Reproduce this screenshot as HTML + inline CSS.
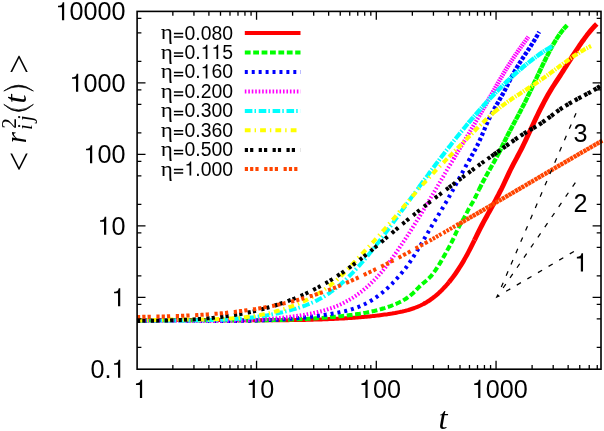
<!DOCTYPE html>
<html><head><meta charset="utf-8"><title>plot</title>
<style>html,body{margin:0;padding:0;background:#fff;}body{width:604px;height:431px;overflow:hidden;}svg{display:block;will-change:transform;}text{font-family:"Liberation Sans",sans-serif;fill:#000;}.ser{font-family:"Liberation Serif",serif;font-style:italic;}</style>
</head><body>
<svg width="604" height="431" viewBox="0 0 604 431">
<rect x="0" y="0" width="604" height="431" fill="#ffffff"/>
<g fill="none" stroke-linejoin="round" stroke-linecap="butt">
<path d="M137.0,320.3 L138.5,320.2 L140.0,320.2 L141.5,320.2 L143.0,320.1 L144.5,320.1 L146.0,320.1 L147.5,320.1 L149.0,320.1 L150.5,320.0 L152.0,320.0 L153.5,320.0 L155.0,320.0 L156.5,320.0 L158.0,320.0 L159.5,320.0 L161.0,319.9 L162.5,319.9 L164.0,319.9 L165.5,319.9 L167.0,319.9 L168.5,319.9 L170.0,319.9 L171.5,319.9 L173.0,319.9 L174.5,319.9 L176.0,319.9 L177.5,319.9 L179.0,319.9 L180.5,319.9 L182.0,319.9 L183.5,319.9 L185.0,319.9 L186.5,319.9 L188.0,319.9 L189.5,319.9 L191.0,319.9 L192.5,319.9 L194.0,319.9 L195.5,319.9 L197.0,320.0 L198.5,320.0 L200.0,320.0 L201.5,320.0 L203.0,320.0 L204.5,320.0 L206.0,320.0 L207.5,320.0 L209.0,320.0 L210.5,320.0 L212.0,320.0 L213.5,320.1 L215.0,320.1 L216.5,320.1 L218.0,320.1 L219.5,320.1 L221.0,320.1 L222.5,320.1 L224.0,320.1 L225.5,320.1 L227.0,320.2 L228.5,320.2 L230.0,320.2 L231.5,320.2 L233.0,320.2 L234.5,320.2 L236.0,320.2 L237.5,320.2 L239.0,320.2 L240.5,320.2 L242.0,320.3 L243.5,320.3 L245.0,320.3 L246.5,320.3 L248.0,320.3 L249.5,320.3 L251.0,320.3 L252.5,320.3 L254.0,320.3 L255.5,320.3 L257.0,320.3 L258.5,320.3 L260.0,320.3 L261.5,320.3 L263.0,320.3 L264.5,320.3 L266.0,320.3 L267.5,320.3 L269.0,320.3 L270.5,320.3 L272.0,320.3 L273.5,320.3 L275.0,320.3 L276.5,320.3 L278.0,320.3 L279.5,320.3 L281.0,320.2 L282.5,320.2 L284.0,320.2 L285.5,320.2 L287.0,320.2 L288.5,320.2 L290.0,320.1 L291.5,320.1 L293.0,320.1 L294.5,320.1 L296.0,320.1 L297.5,320.0 L299.0,320.0 L300.5,320.0 L302.0,319.9 L303.5,319.9 L305.0,319.9 L306.5,319.8 L308.0,319.8 L309.5,319.8 L311.0,319.7 L312.5,319.7 L314.0,319.6 L315.5,319.6 L317.0,319.5 L318.5,319.5 L320.0,319.4 L321.5,319.4 L323.0,319.3 L324.5,319.3 L326.0,319.2 L327.5,319.2 L329.0,319.1 L330.5,319.0 L332.0,319.0 L333.5,318.9 L335.0,318.8 L336.5,318.8 L338.0,318.7 L339.5,318.6 L341.0,318.5 L342.5,318.4 L344.0,318.4 L345.5,318.3 L347.0,318.2 L348.5,318.1 L350.0,318.0 L351.5,317.9 L353.0,317.8 L354.5,317.7 L356.0,317.6 L357.5,317.5 L359.0,317.3 L360.5,317.2 L362.0,317.1 L363.5,317.0 L365.0,316.8 L366.5,316.7 L368.0,316.5 L369.5,316.4 L371.0,316.2 L372.5,316.1 L374.0,315.9 L375.5,315.7 L377.0,315.6 L378.5,315.4 L380.0,315.2 L381.5,315.0 L383.0,314.8 L384.5,314.6 L386.0,314.4 L387.5,314.2 L389.0,313.9 L390.5,313.7 L392.0,313.5 L393.5,313.2 L395.0,313.0 L396.5,312.7 L398.0,312.4 L399.5,312.1 L401.0,311.8 L402.5,311.5 L404.0,311.1 L405.5,310.8 L407.0,310.4 L408.5,310.0 L410.0,309.5 L411.5,309.0 L413.0,308.5 L414.5,308.0 L416.0,307.4 L417.5,306.8 L419.0,306.2 L420.5,305.5 L422.0,304.7 L423.5,304.0 L425.0,303.1" stroke="#ff0000" stroke-width="4.0"/>
<path d="M423.5,304.0 L425.0,303.1 L426.5,302.3 L428.0,301.3 L429.5,300.4 L431.0,299.3 L432.5,298.2 L434.0,297.1 L435.5,295.9 L437.0,294.6 L438.5,293.3 L440.0,291.9 L441.5,290.5 L443.0,288.9 L444.5,287.3 L446.0,285.7 L447.5,284.0 L449.0,282.2" stroke="#ff0000" stroke-width="4.3"/>
<path d="M449.0,282.2 L450.5,280.3 L452.0,278.4 L453.5,276.4 L455.0,274.3 L456.5,272.1 L458.0,269.9 L459.5,267.6 L461.0,265.2 L462.5,262.7 L464.0,260.2 L465.5,257.5 L467.0,254.8 L468.5,252.0 L470.0,249.1 L471.5,246.1 L473.0,243.1 L474.5,240.1" stroke="#ff0000" stroke-width="4.6"/>
<path d="M474.5,240.1 L476.0,237.0 L477.5,233.9 L479.0,230.9 L480.5,227.9 L482.0,225.0 L483.5,222.2 L485.0,219.4 L486.5,216.7 L488.0,213.9 L489.5,211.2 L491.0,208.5 L492.5,205.8 L494.0,203.1 L495.5,200.3 L497.0,197.5 L498.5,194.7 L500.0,191.7 L501.5,188.8 L503.0,185.7 L504.5,182.5 L506.0,179.3 L507.5,176.1 L509.0,172.9 L510.5,169.8 L512.0,166.8 L513.5,163.9 L515.0,161.1 L516.5,158.3 L518.0,155.5 L519.5,152.7 L521.0,149.8 L522.5,146.8 L524.0,143.7 L525.5,140.6 L527.0,137.4 L528.5,134.2 L530.0,130.9 L531.5,127.7 L533.0,124.5 L534.5,121.3 L536.0,118.1 L537.5,115.0 L539.0,111.9 L540.5,108.9 L542.0,106.0 L543.5,103.1 L545.0,100.2 L546.5,97.5 L548.0,94.8 L549.5,92.2 L551.0,89.7 L552.5,87.3 L554.0,85.0 L555.5,82.7 L557.0,80.4 L558.5,78.1 L560.0,75.8 L561.5,73.5 L563.0,71.1 L564.5,68.7 L566.0,66.4 L567.5,64.0 L569.0,61.6 L570.5,59.3 L572.0,56.9 L573.5,54.6 L575.0,52.3 L576.5,50.0 L578.0,47.8 L579.5,45.5 L581.0,43.4 L582.5,41.2 L584.0,39.2 L585.5,37.1 L587.0,35.1 L588.5,33.2 L590.0,31.4 L591.5,29.6 L593.0,27.9 L594.5,26.3 L596.0,24.8 L596.8,24.0" stroke="#ff0000" stroke-width="4.9"/>
<path d="M137.0,320.6 L138.5,320.6 L140.0,320.6 L141.5,320.6 L143.0,320.5 L144.5,320.5 L146.0,320.5 L147.5,320.5 L149.0,320.5 L150.5,320.4 L152.0,320.4 L153.5,320.4 L155.0,320.4 L156.5,320.4 L158.0,320.4 L159.5,320.4 L161.0,320.4 L162.5,320.4 L164.0,320.4 L165.5,320.4 L167.0,320.3 L168.5,320.3 L170.0,320.3 L171.5,320.3 L173.0,320.3 L174.5,320.3 L176.0,320.3 L177.5,320.3 L179.0,320.3 L180.5,320.3 L182.0,320.4 L183.5,320.4 L185.0,320.4 L186.5,320.4 L188.0,320.4 L189.5,320.4 L191.0,320.4 L192.5,320.4 L194.0,320.4 L195.5,320.4 L197.0,320.4 L198.5,320.4 L200.0,320.4 L201.5,320.4 L203.0,320.4 L204.5,320.4 L206.0,320.5 L207.5,320.5 L209.0,320.5 L210.5,320.5 L212.0,320.5 L213.5,320.5 L215.0,320.5 L216.5,320.5 L218.0,320.5 L219.5,320.5 L221.0,320.5 L222.5,320.5 L224.0,320.5 L225.5,320.5 L227.0,320.5 L228.5,320.5 L230.0,320.5 L231.5,320.5 L233.0,320.5 L234.5,320.5 L236.0,320.5 L237.5,320.5 L239.0,320.5 L240.5,320.5 L242.0,320.5 L243.5,320.5 L245.0,320.5 L246.5,320.5 L248.0,320.5 L249.5,320.5 L251.0,320.5 L252.5,320.5 L254.0,320.4 L255.5,320.4 L257.0,320.4 L258.5,320.4 L260.0,320.4 L261.5,320.3 L263.0,320.3 L264.5,320.3 L266.0,320.3 L267.5,320.3 L269.0,320.2 L270.5,320.2 L272.0,320.2 L273.5,320.1 L275.0,320.1 L276.5,320.1 L278.0,320.0 L279.5,320.0 L281.0,319.9 L282.5,319.9 L284.0,319.8 L285.5,319.8 L287.0,319.7 L288.5,319.7 L290.0,319.6 L291.5,319.6 L293.0,319.5 L294.5,319.4 L296.0,319.4 L297.5,319.3 L299.0,319.2 L300.5,319.2 L302.0,319.1 L303.5,319.0 L305.0,318.9 L306.5,318.9 L308.0,318.8 L309.5,318.7 L311.0,318.6 L312.5,318.5 L314.0,318.4 L315.5,318.3 L317.0,318.2 L318.5,318.1 L320.0,318.0 L321.5,317.9 L323.0,317.8 L324.5,317.6 L326.0,317.5 L327.5,317.4 L329.0,317.3 L330.5,317.1 L332.0,317.0 L333.5,316.9 L335.0,316.7 L336.5,316.6 L338.0,316.5 L339.5,316.3 L341.0,316.2 L342.5,316.0 L344.0,315.8 L345.5,315.7 L347.0,315.5 L348.5,315.3 L350.0,315.1 L351.5,314.9 L353.0,314.7 L354.5,314.5 L356.0,314.3 L357.5,314.1 L359.0,313.9 L360.5,313.6 L362.0,313.4 L363.5,313.1 L365.0,312.9 L366.5,312.6 L368.0,312.3 L369.5,312.0 L371.0,311.6 L372.5,311.3 L374.0,311.0 L375.5,310.6 L377.0,310.2 L378.5,309.8 L380.0,309.4 L381.5,309.0 L383.0,308.5 L384.5,308.1 L386.0,307.6 L387.5,307.1 L389.0,306.6 L390.5,306.1 L392.0,305.5 L393.5,304.9 L395.0,304.3 L396.5,303.7 L398.0,303.0 L399.5,302.3 L401.0,301.6 L402.5,300.8 L404.0,299.9 L405.5,299.0 L407.0,298.0 L408.5,296.9 L410.0,295.8 L411.5,294.5 L413.0,293.2 L414.5,291.8 L416.0,290.2 L417.5,288.6 L419.0,287.1 L420.5,285.6 L422.0,284.2 L423.5,283.0 L425.0,281.7 L426.5,280.5 L428.0,279.1 L429.5,277.7 L431.0,276.1 L432.5,274.3 L434.0,272.3 L435.5,270.2 L437.0,267.9 L438.5,265.6 L440.0,263.1 L441.5,260.6 L443.0,257.9 L444.5,255.3 L446.0,252.6 L447.5,249.9 L449.0,247.2 L450.5,244.4 L452.0,241.5 L453.5,238.5 L455.0,235.2 L456.5,231.8 L458.0,228.7 L459.5,225.8 L461.0,223.1 L462.5,220.6 L464.0,218.0 L465.5,215.2 L467.0,212.3 L468.5,209.3 L470.0,206.7 L471.5,204.3 L473.0,201.8 L474.5,199.0 L476.0,196.0 L477.5,192.8 L479.0,189.7" stroke="#00ff00" stroke-width="4.0" stroke-dasharray="5.8 2.6"/>
<path d="M479.0,189.7 L480.5,186.6 L482.0,183.6 L483.5,180.7 L485.0,177.9 L486.5,175.2 L488.0,172.5 L489.5,169.9 L491.0,167.3 L492.5,164.6 L494.0,162.0 L495.5,159.2 L497.0,156.5 L498.5,153.6 L500.0,150.7" stroke="#00ff00" stroke-width="4.2" stroke-dasharray="5.8 1.6"/>
<path d="M498.5,153.6 L500.0,150.7 L501.5,147.6 L503.0,144.5 L504.5,141.5 L506.0,138.5 L507.5,135.5 L509.0,132.6 L510.5,129.8 L512.0,126.9 L513.5,124.1 L515.0,121.3 L516.5,118.5 L518.0,115.7 L519.5,112.9 L521.0,110.0 L522.5,107.1 L524.0,104.2 L525.5,101.2 L527.0,98.1 L528.5,95.0 L530.0,91.9 L531.5,88.7 L533.0,85.5 L534.5,82.3 L536.0,79.1 L537.5,75.9 L539.0,72.7 L540.5,69.5 L542.0,66.4 L543.5,63.3 L545.0,60.2 L546.5,57.2 L548.0,54.2 L549.5,51.3 L551.0,48.5 L552.5,45.8 L554.0,43.2 L555.5,40.6 L557.0,38.2 L558.5,35.9 L560.0,33.7 L561.5,31.7 L563.0,29.7 L564.5,28.0 L566.0,26.4 L567.2,25.2" stroke="#00ff00" stroke-width="4.4" stroke-dasharray="5.8 0.6"/>
<path d="M137.0,320.9 L138.5,320.9 L140.0,320.9 L141.5,320.8 L143.0,320.8 L144.5,320.8 L146.0,320.7 L147.5,320.7 L149.0,320.7 L150.5,320.7 L152.0,320.7 L153.5,320.6 L155.0,320.6 L156.5,320.6 L158.0,320.6 L159.5,320.6 L161.0,320.6 L162.5,320.6 L164.0,320.6 L165.5,320.6 L167.0,320.6 L168.5,320.6 L170.0,320.6 L171.5,320.6 L173.0,320.6 L174.5,320.6 L176.0,320.6 L177.5,320.6 L179.0,320.6 L180.5,320.6 L182.0,320.6 L183.5,320.7 L185.0,320.7 L186.5,320.7 L188.0,320.7 L189.5,320.7 L191.0,320.7 L192.5,320.7 L194.0,320.7 L195.5,320.8 L197.0,320.8 L198.5,320.8 L200.0,320.8 L201.5,320.8 L203.0,320.8 L204.5,320.8 L206.0,320.8 L207.5,320.9 L209.0,320.9 L210.5,320.9 L212.0,320.9 L213.5,320.9 L215.0,320.9 L216.5,320.9 L218.0,320.9 L219.5,320.9 L221.0,320.9 L222.5,320.9 L224.0,320.9 L225.5,320.9 L227.0,320.9 L228.5,320.9 L230.0,320.9 L231.5,320.9 L233.0,320.9 L234.5,320.9 L236.0,320.9 L237.5,320.9 L239.0,320.9 L240.5,320.8 L242.0,320.8 L243.5,320.8 L245.0,320.8 L246.5,320.8 L248.0,320.7 L249.5,320.7 L251.0,320.7 L252.5,320.6 L254.0,320.6 L255.5,320.6 L257.0,320.5 L258.5,320.5 L260.0,320.4 L261.5,320.4 L263.0,320.3 L264.5,320.3 L266.0,320.2 L267.5,320.2 L269.0,320.1 L270.5,320.0 L272.0,320.0 L273.5,319.9 L275.0,319.8 L276.5,319.7 L278.0,319.7 L279.5,319.6 L281.0,319.5 L282.5,319.4 L284.0,319.3 L285.5,319.2 L287.0,319.1 L288.5,319.0 L290.0,318.8 L291.5,318.7 L293.0,318.6 L294.5,318.5 L296.0,318.3 L297.5,318.2 L299.0,318.1 L300.5,317.9 L302.0,317.8 L303.5,317.6 L305.0,317.5 L306.5,317.3 L308.0,317.1 L309.5,316.9 L311.0,316.8 L312.5,316.6 L314.0,316.4 L315.5,316.2 L317.0,316.0 L318.5,315.8 L320.0,315.6 L321.5,315.4 L323.0,315.2 L324.5,314.9 L326.0,314.7 L327.5,314.5 L329.0,314.2 L330.5,314.0 L332.0,313.7 L333.5,313.4 L335.0,313.2 L336.5,312.9 L338.0,312.6 L339.5,312.3 L341.0,312.0 L342.5,311.7 L344.0,311.3 L345.5,311.0 L347.0,310.6 L348.5,310.2 L350.0,309.8 L351.5,309.3 L353.0,308.8 L354.5,308.3 L356.0,307.8 L357.5,307.3 L359.0,306.7 L360.5,306.0 L362.0,305.4 L363.5,304.7 L365.0,304.0 L366.5,303.2 L368.0,302.4 L369.5,301.6 L371.0,300.7 L372.5,299.8 L374.0,298.8 L375.5,297.8 L377.0,296.7 L378.5,295.6 L380.0,294.5 L381.5,293.3 L383.0,292.1 L384.5,290.8 L386.0,289.5 L387.5,288.1 L389.0,286.7 L390.5,285.3 L392.0,283.8 L393.5,282.2 L395.0,280.7 L396.5,279.0 L398.0,277.3 L399.5,275.6 L401.0,273.8 L402.5,272.0 L404.0,270.1 L405.5,268.2 L407.0,266.2 L408.5,264.1 L410.0,262.0 L411.5,259.7 L413.0,257.4 L414.5,255.0 L416.0,252.6 L417.5,250.2 L419.0,247.8 L420.5,245.3 L422.0,242.7 L423.5,240.2 L425.0,237.6 L426.5,235.0 L428.0,232.4 L429.5,229.8 L431.0,227.2 L432.5,224.7 L434.0,222.2 L435.5,219.7 L437.0,217.3 L438.5,214.8 L440.0,212.3 L441.5,209.9 L443.0,207.4 L444.5,204.8 L446.0,202.3 L447.5,199.7 L449.0,197.0 L450.5,194.3 L452.0,191.6 L453.5,188.9 L455.0,186.1 L456.5,183.3 L458.0,180.6 L459.5,177.8 L461.0,175.0 L462.5,172.2 L464.0,169.5 L465.5,166.7 L467.0,164.0 L468.5,161.3 L470.0,158.7" stroke="#0000ff" stroke-width="4.0" stroke-dasharray="3.0 3.93"/>
<path d="M468.5,161.3 L470.0,158.7 L471.5,156.1 L473.0,153.4 L474.5,150.7 L476.0,147.9 L477.5,145.0 L479.0,141.9 L480.5,138.6 L482.0,135.2 L483.5,131.6 L485.0,128.0 L486.5,124.5 L488.0,121.2 L489.5,118.0 L491.0,115.0 L492.5,112.2 L494.0,109.4" stroke="#0000ff" stroke-width="4.2" stroke-dasharray="3.2 2.6"/>
<path d="M494.0,109.4 L495.5,106.7 L497.0,104.1 L498.5,101.5 L500.0,98.9 L501.5,96.3 L503.0,93.6 L504.5,90.9 L506.0,88.0 L507.5,85.0 L509.0,82.0 L510.5,79.1 L512.0,76.2 L513.5,73.4 L515.0,70.7 L516.5,68.1 L518.0,65.6 L519.5,63.2 L521.0,60.8 L522.5,58.5 L524.0,56.2 L525.5,54.0 L527.0,51.7 L528.5,49.5 L530.0,47.2 L531.5,44.9 L533.0,42.5 L534.5,40.1 L536.0,37.6 L537.5,35.0 L539.0,32.2 L539.2,31.9" stroke="#0000ff" stroke-width="4.3" stroke-dasharray="3.6 1.6"/>
<path d="M137.0,320.9 L138.5,320.9 L140.0,320.8 L141.5,320.8 L143.0,320.8 L144.5,320.8 L146.0,320.8 L147.5,320.8 L149.0,320.8 L150.5,320.7 L152.0,320.7 L153.5,320.7 L155.0,320.7 L156.5,320.7 L158.0,320.7 L159.5,320.7 L161.0,320.7 L162.5,320.7 L164.0,320.7 L165.5,320.7 L167.0,320.7 L168.5,320.7 L170.0,320.7 L171.5,320.8 L173.0,320.8 L174.5,320.8 L176.0,320.8 L177.5,320.8 L179.0,320.8 L180.5,320.8 L182.0,320.8 L183.5,320.8 L185.0,320.8 L186.5,320.8 L188.0,320.8 L189.5,320.9 L191.0,320.9 L192.5,320.9 L194.0,320.9 L195.5,320.9 L197.0,320.9 L198.5,320.9 L200.0,320.9 L201.5,320.9 L203.0,320.9 L204.5,320.9 L206.0,320.9 L207.5,320.9 L209.0,320.9 L210.5,320.9 L212.0,320.9 L213.5,320.9 L215.0,320.9 L216.5,320.9 L218.0,320.9 L219.5,320.9 L221.0,320.8 L222.5,320.8 L224.0,320.8 L225.5,320.8 L227.0,320.8 L228.5,320.7 L230.0,320.7 L231.5,320.7 L233.0,320.6 L234.5,320.6 L236.0,320.6 L237.5,320.5 L239.0,320.5 L240.5,320.4 L242.0,320.4 L243.5,320.3 L245.0,320.3 L246.5,320.2 L248.0,320.2 L249.5,320.1 L251.0,320.0 L252.5,320.0 L254.0,319.9 L255.5,319.8 L257.0,319.7 L258.5,319.6 L260.0,319.6 L261.5,319.5 L263.0,319.4 L264.5,319.3 L266.0,319.1 L267.5,319.0 L269.0,318.9 L270.5,318.8 L272.0,318.7 L273.5,318.5 L275.0,318.4 L276.5,318.3 L278.0,318.1 L279.5,318.0 L281.0,317.8 L282.5,317.7 L284.0,317.5 L285.5,317.3 L287.0,317.2 L288.5,317.0 L290.0,316.8 L291.5,316.6 L293.0,316.4 L294.5,316.2 L296.0,316.0 L297.5,315.8 L299.0,315.6 L300.5,315.4 L302.0,315.1 L303.5,314.9 L305.0,314.6 L306.5,314.4 L308.0,314.1 L309.5,313.8 L311.0,313.6 L312.5,313.3 L314.0,312.9 L315.5,312.6 L317.0,312.3 L318.5,311.9 L320.0,311.6 L321.5,311.2 L323.0,310.8 L324.5,310.3 L326.0,309.9 L327.5,309.4 L329.0,308.9 L330.5,308.4 L332.0,307.9 L333.5,307.3 L335.0,306.8 L336.5,306.2 L338.0,305.5 L339.5,304.9 L341.0,304.2 L342.5,303.5 L344.0,302.7 L345.5,301.9 L347.0,301.1 L348.5,300.3 L350.0,299.4 L351.5,298.5 L353.0,297.6 L354.5,296.6 L356.0,295.6 L357.5,294.5 L359.0,293.4 L360.5,292.3 L362.0,291.2 L363.5,289.9 L365.0,288.7 L366.5,287.4 L368.0,286.1 L369.5,284.7 L371.0,283.3 L372.5,281.8 L374.0,280.3 L375.5,278.8 L377.0,277.2 L378.5,275.5 L380.0,273.8 L381.5,272.1 L383.0,270.3 L384.5,268.4 L386.0,266.6 L387.5,264.6 L389.0,262.6 L390.5,260.6 L392.0,258.5 L393.5,256.4 L395.0,254.3 L396.5,252.1 L398.0,250.0 L399.5,247.7 L401.0,245.5 L402.5,243.3 L404.0,241.0 L405.5,238.7 L407.0,236.4 L408.5,234.1 L410.0,231.7 L411.5,229.4 L413.0,227.0 L414.5,224.6 L416.0,222.2 L417.5,219.8 L419.0,217.4 L420.5,214.9 L422.0,212.5 L423.5,210.0 L425.0,207.5 L426.5,205.0 L428.0,202.5 L429.5,199.9 L431.0,197.4 L432.5,194.9 L434.0,192.3 L435.5,189.7 L437.0,187.2 L438.5,184.6 L440.0,182.0 L441.5,179.4 L443.0,176.9 L444.5,174.3 L446.0,171.7 L447.5,169.2 L449.0,166.6 L450.5,164.1 L452.0,161.6 L453.5,159.0 L455.0,156.5" stroke="#ff00ff" stroke-width="4.0" stroke-dasharray="1.6 1.87"/>
<path d="M453.5,159.0 L455.0,156.5 L456.5,154.0 L458.0,151.5 L459.5,149.0 L461.0,146.5 L462.5,144.0 L464.0,141.5 L465.5,139.0 L467.0,136.5 L468.5,134.0 L470.0,131.5 L471.5,128.9 L473.0,126.4 L474.5,123.9 L476.0,121.3 L477.5,118.8 L479.0,116.2" stroke="#ff00ff" stroke-width="4.2" stroke-dasharray="1.6 1.3"/>
<path d="M479.0,116.2 L480.5,113.7 L482.0,111.1 L483.5,108.5 L485.0,105.9 L486.5,103.2 L488.0,100.6 L489.5,97.9 L491.0,95.3 L492.5,92.6 L494.0,90.0 L495.5,87.3 L497.0,84.7 L498.5,82.0 L500.0,79.5 L501.5,76.9 L503.0,74.4 L504.5,71.9 L506.0,69.4 L507.5,67.0 L509.0,64.7 L510.5,62.3 L512.0,60.1 L513.5,57.8 L515.0,55.6 L516.5,53.4 L518.0,51.2 L519.5,49.1 L521.0,47.0 L522.5,44.9 L524.0,42.8 L525.5,40.8 L527.0,38.7 L528.4,36.8" stroke="#ff00ff" stroke-width="4.4" stroke-dasharray="1.6 0.9"/>
<path d="M137.0,320.9 L138.5,320.8 L140.0,320.8 L141.5,320.8 L143.0,320.7 L144.5,320.7 L146.0,320.6 L147.5,320.6 L149.0,320.6 L150.5,320.6 L152.0,320.5 L153.5,320.5 L155.0,320.5 L156.5,320.5 L158.0,320.5 L159.5,320.4 L161.0,320.4 L162.5,320.4 L164.0,320.4 L165.5,320.4 L167.0,320.4 L168.5,320.4 L170.0,320.4 L171.5,320.4 L173.0,320.4 L174.5,320.4 L176.0,320.4 L177.5,320.4 L179.0,320.4 L180.5,320.4 L182.0,320.4 L183.5,320.4 L185.0,320.4 L186.5,320.4 L188.0,320.4 L189.5,320.4 L191.0,320.4 L192.5,320.3 L194.0,320.3 L195.5,320.3 L197.0,320.3 L198.5,320.3 L200.0,320.3 L201.5,320.3 L203.0,320.2 L204.5,320.2 L206.0,320.2 L207.5,320.2 L209.0,320.1 L210.5,320.1 L212.0,320.1 L213.5,320.0 L215.0,320.0 L216.5,319.9 L218.0,319.9 L219.5,319.8 L221.0,319.8 L222.5,319.7 L224.0,319.6 L225.5,319.6 L227.0,319.5 L228.5,319.4 L230.0,319.3 L231.5,319.2 L233.0,319.1 L234.5,319.0 L236.0,318.9 L237.5,318.8 L239.0,318.7 L240.5,318.6 L242.0,318.4 L243.5,318.3 L245.0,318.2 L246.5,318.0 L248.0,317.9 L249.5,317.7 L251.0,317.5 L252.5,317.4 L254.0,317.2 L255.5,317.0 L257.0,316.8 L258.5,316.6 L260.0,316.4 L261.5,316.2 L263.0,315.9 L264.5,315.7 L266.0,315.4 L267.5,315.2 L269.0,314.9 L270.5,314.7 L272.0,314.4 L273.5,314.1 L275.0,313.8 L276.5,313.5 L278.0,313.2 L279.5,312.8 L281.0,312.5 L282.5,312.2 L284.0,311.8 L285.5,311.4 L287.0,311.1 L288.5,310.7 L290.0,310.3 L291.5,309.9 L293.0,309.4 L294.5,309.0 L296.0,308.6 L297.5,308.1 L299.0,307.6 L300.5,307.1 L302.0,306.6 L303.5,306.1 L305.0,305.6 L306.5,305.0 L308.0,304.4 L309.5,303.8 L311.0,303.2 L312.5,302.5 L314.0,301.9 L315.5,301.1 L317.0,300.4 L318.5,299.6 L320.0,298.8 L321.5,298.0 L323.0,297.1 L324.5,296.2 L326.0,295.3 L327.5,294.3 L329.0,293.3 L330.5,292.2 L332.0,291.2 L333.5,290.0 L335.0,288.9 L336.5,287.7 L338.0,286.5 L339.5,285.2 L341.0,283.9 L342.5,282.6 L344.0,281.2 L345.5,279.8 L347.0,278.4 L348.5,276.9 L350.0,275.4 L351.5,273.9 L353.0,272.4 L354.5,270.8 L356.0,269.2 L357.5,267.5 L359.0,265.9 L360.5,264.2 L362.0,262.5 L363.5,260.7 L365.0,259.0 L366.5,257.2 L368.0,255.4 L369.5,253.5 L371.0,251.7 L372.5,249.8 L374.0,247.9 L375.5,246.0 L377.0,244.1 L378.5,242.2 L380.0,240.2 L381.5,238.3 L383.0,236.3 L384.5,234.3 L386.0,232.3 L387.5,230.3 L389.0,228.3 L390.5,226.3 L392.0,224.2 L393.5,222.2 L395.0,220.1 L396.5,218.1 L398.0,216.0 L399.5,214.0 L401.0,211.9 L402.5,209.8 L404.0,207.8 L405.5,205.7 L407.0,203.6 L408.5,201.6 L410.0,199.5 L411.5,197.4 L413.0,195.4 L414.5,193.3 L416.0,191.2 L417.5,189.2 L419.0,187.1" stroke="#00ffff" stroke-width="4.0" stroke-dasharray="7.6 2.1 1.5 2.7"/>
<path d="M419.0,187.1 L420.5,185.1 L422.0,183.0 L423.5,181.0 L425.0,178.9 L426.5,176.9 L428.0,174.9 L429.5,172.8 L431.0,170.8 L432.5,168.8 L434.0,166.8 L435.5,164.8 L437.0,162.8 L438.5,160.8 L440.0,158.8 L441.5,156.8 L443.0,154.9 L444.5,152.9 L446.0,151.0 L447.5,149.0 L449.0,147.1 L450.5,145.2 L452.0,143.2 L453.5,141.3 L455.0,139.4 L456.5,137.5 L458.0,135.7 L459.5,133.8 L461.0,132.0 L462.5,130.1 L464.0,128.3 L465.5,126.5 L467.0,124.7 L468.5,122.9 L470.0,121.1" stroke="#00ffff" stroke-width="4.2" stroke-dasharray="7.6 1.4 1.5 1.6"/>
<path d="M468.5,122.9 L470.0,121.1 L471.5,119.3 L473.0,117.6 L474.5,115.8 L476.0,114.1 L477.5,112.4 L479.0,110.7 L480.5,109.0 L482.0,107.3 L483.5,105.6 L485.0,104.0 L486.5,102.3 L488.0,100.7 L489.5,99.1 L491.0,97.5 L492.5,95.9 L494.0,94.4 L495.5,92.8 L497.0,91.3 L498.5,89.8 L500.0,88.3 L501.5,86.8 L503.0,85.3 L504.5,83.8 L506.0,82.4 L507.5,80.9 L509.0,79.5 L510.5,78.1 L512.0,76.7 L513.5,75.4 L515.0,74.0 L516.5,72.7 L518.0,71.4 L519.5,70.1 L521.0,68.8 L522.5,67.5 L524.0,66.2 L525.5,65.0 L527.0,63.8 L528.5,62.6 L530.0,61.4 L531.5,60.2 L533.0,59.1 L534.5,58.0 L536.0,56.9 L537.5,55.8 L539.0,54.7 L540.5,53.7 L542.0,52.7 L543.5,51.7 L545.0,50.7 L546.5,49.7 L548.0,48.8 L549.5,47.9 L551.0,47.0 L552.5,46.2 L552.7,46.0" stroke="#00ffff" stroke-width="4.4" stroke-dasharray="7.6 0.7 1.5 0.8"/>
<path d="M137.0,321.0 L138.5,320.8 L140.0,320.7 L141.5,320.6 L143.0,320.5 L144.5,320.4 L146.0,320.3 L147.5,320.3 L149.0,320.2 L150.5,320.1 L152.0,320.0 L153.5,320.0 L155.0,319.9 L156.5,319.9 L158.0,319.8 L159.5,319.8 L161.0,319.8 L162.5,319.7 L164.0,319.7 L165.5,319.7 L167.0,319.7 L168.5,319.6 L170.0,319.6 L171.5,319.6 L173.0,319.6 L174.5,319.6 L176.0,319.6 L177.5,319.6 L179.0,319.6 L180.5,319.6 L182.0,319.6 L183.5,319.5 L185.0,319.5 L186.5,319.5 L188.0,319.5 L189.5,319.5 L191.0,319.5 L192.5,319.5 L194.0,319.5 L195.5,319.5 L197.0,319.5 L198.5,319.5 L200.0,319.5 L201.5,319.5 L203.0,319.5 L204.5,319.5 L206.0,319.4 L207.5,319.4 L209.0,319.4 L210.5,319.4 L212.0,319.3 L213.5,319.3 L215.0,319.2 L216.5,319.2 L218.0,319.1 L219.5,319.1 L221.0,319.0 L222.5,319.0 L224.0,318.9 L225.5,318.8 L227.0,318.7 L228.5,318.6 L230.0,318.5 L231.5,318.4 L233.0,318.3 L234.5,318.2 L236.0,318.1 L237.5,318.0 L239.0,317.8 L240.5,317.7 L242.0,317.5 L243.5,317.4 L245.0,317.2 L246.5,317.0 L248.0,316.8 L249.5,316.6 L251.0,316.4 L252.5,316.2 L254.0,316.0 L255.5,315.7 L257.0,315.5 L258.5,315.2 L260.0,315.0 L261.5,314.7 L263.0,314.4 L264.5,314.1 L266.0,313.8 L267.5,313.4 L269.0,313.1 L270.5,312.7 L272.0,312.4 L273.5,312.0 L275.0,311.6 L276.5,311.2 L278.0,310.8 L279.5,310.4 L281.0,309.9 L282.5,309.4 L284.0,309.0 L285.5,308.5 L287.0,308.0 L288.5,307.5 L290.0,306.9 L291.5,306.4 L293.0,305.8 L294.5,305.2 L296.0,304.6 L297.5,304.0 L299.0,303.4 L300.5,302.7 L302.0,302.0 L303.5,301.4 L305.0,300.7 L306.5,299.9 L308.0,299.2 L309.5,298.4 L311.0,297.7 L312.5,296.9 L314.0,296.0 L315.5,295.2 L317.0,294.3 L318.5,293.4 L320.0,292.5 L321.5,291.5 L323.0,290.5 L324.5,289.5 L326.0,288.5 L327.5,287.4 L329.0,286.3 L330.5,285.1 L332.0,283.9 L333.5,282.7 L335.0,281.5 L336.5,280.2 L338.0,278.8 L339.5,277.4 L341.0,276.0 L342.5,274.5 L344.0,273.0 L345.5,271.5 L347.0,269.9 L348.5,268.4 L350.0,266.8 L351.5,265.1 L353.0,263.5 L354.5,261.9 L356.0,260.3 L357.5,258.7 L359.0,257.1 L360.5,255.5 L362.0,253.9 L363.5,252.3 L365.0,250.7 L366.5,249.1 L368.0,247.5 L369.5,245.9 L371.0,244.2 L372.5,242.6 L374.0,241.0 L375.5,239.3 L377.0,237.7 L378.5,236.0 L380.0,234.3 L381.5,232.6 L383.0,230.9 L384.5,229.2 L386.0,227.5 L387.5,225.7 L389.0,224.0 L390.5,222.2 L392.0,220.5 L393.5,218.7 L395.0,217.0 L396.5,215.2 L398.0,213.4 L399.5,211.6 L401.0,209.9 L402.5,208.1 L404.0,206.3 L405.5,204.5 L407.0,202.8 L408.5,201.0 L410.0,199.2 L411.5,197.5 L413.0,195.7 L414.5,194.0 L416.0,192.3 L417.5,190.5 L419.0,188.8 L420.5,187.1 L422.0,185.4 L423.5,183.7 L425.0,182.1 L426.5,180.4 L428.0,178.8 L429.5,177.1 L431.0,175.5 L432.5,173.9 L434.0,172.3 L435.5,170.7 L437.0,169.2 L438.5,167.6 L440.0,166.1 L441.5,164.5 L443.0,163.0 L444.5,161.5 L446.0,159.9 L447.5,158.4 L449.0,156.9" stroke="#ffff00" stroke-width="4.0" stroke-dasharray="5.8 4.0 1.4 4.1"/>
<path d="M449.0,156.9 L450.5,155.4 L452.0,153.9 L453.5,152.3 L455.0,150.8 L456.5,149.3 L458.0,147.8 L459.5,146.3 L461.0,144.8 L462.5,143.3 L464.0,141.7 L465.5,140.2 L467.0,138.7 L468.5,137.1 L470.0,135.6 L471.5,134.0 L473.0,132.5 L474.5,131.0 L476.0,129.4 L477.5,127.9 L479.0,126.4 L480.5,124.9 L482.0,123.4 L483.5,122.0 L485.0,120.5 L486.5,119.1 L488.0,117.7 L489.5,116.3 L491.0,114.9 L492.5,113.6 L494.0,112.3" stroke="#ffff00" stroke-width="4.1" stroke-dasharray="5.8 2.4 1.4 2.4"/>
<path d="M494.0,112.3 L495.5,111.1 L497.0,109.8 L498.5,108.7 L500.0,107.5 L501.5,106.3 L503.0,105.2 L504.5,104.1 L506.0,103.0 L507.5,101.9 L509.0,100.9 L510.5,99.9 L512.0,98.8 L513.5,97.8 L515.0,96.8 L516.5,95.8 L518.0,94.9 L519.5,93.9 L521.0,92.9 L522.5,92.0 L524.0,91.0 L525.5,90.0 L527.0,89.1 L528.5,88.1 L530.0,87.1 L531.5,86.2 L533.0,85.2 L534.5,84.2 L536.0,83.2 L537.5,82.2 L539.0,81.2 L540.5,80.1 L542.0,79.1 L543.5,78.0 L545.0,77.0 L546.5,75.9 L548.0,74.8 L549.5,73.7 L551.0,72.6 L552.5,71.5 L554.0,70.4 L555.5,69.3 L557.0,68.2 L558.5,67.1 L560.0,66.0 L561.5,64.9 L563.0,63.8 L564.5,62.7 L566.0,61.6 L567.5,60.5 L569.0,59.5 L570.5,58.4 L572.0,57.4 L573.5,56.3 L575.0,55.3 L576.5,54.4 L578.0,53.4 L579.5,52.4 L581.0,51.5 L582.5,50.6 L584.0,49.7 L585.5,48.9 L587.0,48.1 L588.5,47.3 L590.0,46.5 L591.0,46.0" stroke="#ffff00" stroke-width="4.2" stroke-dasharray="5.8 1.2 1.4 1.2"/>
<path d="M137.0,320.9 L138.5,320.9 L140.0,320.9 L141.5,320.8 L143.0,320.8 L144.5,320.8 L146.0,320.8 L147.5,320.8 L149.0,320.8 L150.5,320.7 L152.0,320.7 L153.5,320.7 L155.0,320.7 L156.5,320.7 L158.0,320.6 L159.5,320.6 L161.0,320.6 L162.5,320.6 L164.0,320.5 L165.5,320.5 L167.0,320.5 L168.5,320.4 L170.0,320.4 L171.5,320.3 L173.0,320.3 L174.5,320.3 L176.0,320.2 L177.5,320.2 L179.0,320.1 L180.5,320.0 L182.0,320.0 L183.5,319.9 L185.0,319.8 L186.5,319.8 L188.0,319.7 L189.5,319.6 L191.0,319.5 L192.5,319.4 L194.0,319.4 L195.5,319.3 L197.0,319.2 L198.5,319.1 L200.0,318.9 L201.5,318.8 L203.0,318.7 L204.5,318.6 L206.0,318.5 L207.5,318.3 L209.0,318.2 L210.5,318.1 L212.0,317.9 L213.5,317.8 L215.0,317.6 L216.5,317.4 L218.0,317.3 L219.5,317.1 L221.0,316.9 L222.5,316.7 L224.0,316.5 L225.5,316.3 L227.0,316.1 L228.5,315.9 L230.0,315.7 L231.5,315.5 L233.0,315.2 L234.5,315.0 L236.0,314.7 L237.5,314.5 L239.0,314.2 L240.5,314.0 L242.0,313.7 L243.5,313.4 L245.0,313.1 L246.5,312.8 L248.0,312.5 L249.5,312.2 L251.0,311.9 L252.5,311.5 L254.0,311.2 L255.5,310.8 L257.0,310.5 L258.5,310.1 L260.0,309.7 L261.5,309.4 L263.0,309.0 L264.5,308.6 L266.0,308.2 L267.5,307.7 L269.0,307.3 L270.5,306.9 L272.0,306.4 L273.5,306.0 L275.0,305.5 L276.5,305.0 L278.0,304.5 L279.5,304.0 L281.0,303.5 L282.5,303.0 L284.0,302.5 L285.5,301.9 L287.0,301.4 L288.5,300.8 L290.0,300.2 L291.5,299.7 L293.0,299.1 L294.5,298.5 L296.0,297.8 L297.5,297.2 L299.0,296.6 L300.5,295.9 L302.0,295.3 L303.5,294.6 L305.0,293.9 L306.5,293.2 L308.0,292.5 L309.5,291.8 L311.0,291.0 L312.5,290.3 L314.0,289.5 L315.5,288.7 L317.0,288.0 L318.5,287.2 L320.0,286.3 L321.5,285.5 L323.0,284.7 L324.5,283.8 L326.0,283.0 L327.5,282.1 L329.0,281.2 L330.5,280.3 L332.0,279.4 L333.5,278.4 L335.0,277.5 L336.5,276.5 L338.0,275.5 L339.5,274.5 L341.0,273.5 L342.5,272.5 L344.0,271.5 L345.5,270.4 L347.0,269.4 L348.5,268.3 L350.0,267.2 L351.5,266.1 L353.0,265.0 L354.5,263.8 L356.0,262.7 L357.5,261.5 L359.0,260.4 L360.5,259.2 L362.0,258.0 L363.5,256.8 L365.0,255.6 L366.5,254.4 L368.0,253.2 L369.5,252.0 L371.0,250.7 L372.5,249.5 L374.0,248.2 L375.5,247.0 L377.0,245.7 L378.5,244.5 L380.0,243.2 L381.5,241.9 L383.0,240.7 L384.5,239.4 L386.0,238.1 L387.5,236.8 L389.0,235.5 L390.5,234.3 L392.0,233.0 L393.5,231.7 L395.0,230.4 L396.5,229.1 L398.0,227.9 L399.5,226.6 L401.0,225.3 L402.5,224.1 L404.0,222.8 L405.5,221.6 L407.0,220.3 L408.5,219.1 L410.0,217.9 L411.5,216.6 L413.0,215.4 L414.5,214.2 L416.0,213.0 L417.5,211.8 L419.0,210.6 L420.5,209.4 L422.0,208.2 L423.5,207.0 L425.0,205.8 L426.5,204.7 L428.0,203.5 L429.5,202.3 L431.0,201.2 L432.5,200.0 L434.0,198.8 L435.5,197.7 L437.0,196.5 L438.5,195.4 L440.0,194.3 L441.5,193.1 L443.0,192.0 L444.5,190.8 L446.0,189.7 L447.5,188.6 L449.0,187.4" stroke="#000000" stroke-width="4.0" stroke-dasharray="3.2 2.1 3.2 5.4"/>
<path d="M449.0,187.4 L450.5,186.3 L452.0,185.2 L453.5,184.1 L455.0,182.9 L456.5,181.8 L458.0,180.7 L459.5,179.6 L461.0,178.5 L462.5,177.3 L464.0,176.2 L465.5,175.1 L467.0,174.0 L468.5,172.9 L470.0,171.7 L471.5,170.6 L473.0,169.5 L474.5,168.4 L476.0,167.3 L477.5,166.2 L479.0,165.1 L480.5,164.0 L482.0,162.9 L483.5,161.9 L485.0,160.8 L486.5,159.7 L488.0,158.6 L489.5,157.6 L491.0,156.5 L492.5,155.5 L494.0,154.4" stroke="#000000" stroke-width="4.1" stroke-dasharray="3.2 1.4 3.2 4.2"/>
<path d="M494.0,154.4 L495.5,153.4 L497.0,152.3 L498.5,151.2 L500.0,150.2 L501.5,149.1 L503.0,148.1 L504.5,147.0 L506.0,145.9 L507.5,144.9 L509.0,143.8 L510.5,142.7 L512.0,141.7 L513.5,140.6 L515.0,139.6 L516.5,138.5 L518.0,137.5 L519.5,136.5 L521.0,135.5 L522.5,134.5 L524.0,133.6 L525.5,132.6 L527.0,131.7 L528.5,130.8 L530.0,129.9 L531.5,129.1 L533.0,128.2 L534.5,127.4 L536.0,126.5 L537.5,125.6 L539.0,124.6 L540.5,123.7 L542.0,122.7 L543.5,121.6 L545.0,120.5 L546.5,119.4 L548.0,118.3 L549.5,117.2 L551.0,116.0 L552.5,114.9 L554.0,113.7 L555.5,112.6 L557.0,111.5 L558.5,110.4 L560.0,109.4 L561.5,108.3 L563.0,107.3 L564.5,106.4 L566.0,105.5 L567.5,104.6 L569.0,103.7 L570.5,102.8 L572.0,102.0 L573.5,101.1 L575.0,100.3 L576.5,99.5 L578.0,98.7 L579.5,97.9 L581.0,97.1 L582.5,96.3 L584.0,95.5 L585.5,94.7 L587.0,93.9 L588.5,93.1 L590.0,92.3 L591.5,91.4 L593.0,90.6 L594.5,89.7 L596.0,88.8 L597.5,87.9 L599.0,86.9 L600.5,86.0 L602.0,85.0 L602.2,84.8" stroke="#000000" stroke-width="4.3" stroke-dasharray="3.4 0.7 3.4 3.3"/>
<path d="M137.0,316.9 L138.5,316.9 L140.0,316.9 L141.5,316.9 L143.0,316.8 L144.5,316.8 L146.0,316.8 L147.5,316.8 L149.0,316.7 L150.5,316.7 L152.0,316.7 L153.5,316.7 L155.0,316.6 L156.5,316.6 L158.0,316.6 L159.5,316.5 L161.0,316.5 L162.5,316.5 L164.0,316.4 L165.5,316.4 L167.0,316.3 L168.5,316.3 L170.0,316.3 L171.5,316.2 L173.0,316.2 L174.5,316.1 L176.0,316.1 L177.5,316.0 L179.0,316.0 L180.5,315.9 L182.0,315.8 L183.5,315.8 L185.0,315.7 L186.5,315.6 L188.0,315.6 L189.5,315.5 L191.0,315.4 L192.5,315.3 L194.0,315.3 L195.5,315.2 L197.0,315.1 L198.5,315.0 L200.0,314.9 L201.5,314.8 L203.0,314.7 L204.5,314.6 L206.0,314.5 L207.5,314.4 L209.0,314.3 L210.5,314.2 L212.0,314.1 L213.5,313.9 L215.0,313.8 L216.5,313.7 L218.0,313.6 L219.5,313.4 L221.0,313.3 L222.5,313.2 L224.0,313.0 L225.5,312.9 L227.0,312.7 L228.5,312.5 L230.0,312.4 L231.5,312.2 L233.0,312.0 L234.5,311.9 L236.0,311.7 L237.5,311.5 L239.0,311.3 L240.5,311.1 L242.0,310.9 L243.5,310.7 L245.0,310.5 L246.5,310.3 L248.0,310.1 L249.5,309.9 L251.0,309.7 L252.5,309.4 L254.0,309.2 L255.5,309.0 L257.0,308.7 L258.5,308.5 L260.0,308.2 L261.5,308.0 L263.0,307.7 L264.5,307.4 L266.0,307.1 L267.5,306.9 L269.0,306.6 L270.5,306.3 L272.0,306.0 L273.5,305.7 L275.0,305.4 L276.5,305.1 L278.0,304.7 L279.5,304.4 L281.0,304.1 L282.5,303.7 L284.0,303.4 L285.5,303.0 L287.0,302.7 L288.5,302.3 L290.0,301.9 L291.5,301.6 L293.0,301.2 L294.5,300.8 L296.0,300.4 L297.5,300.0 L299.0,299.6 L300.5,299.2 L302.0,298.7 L303.5,298.3 L305.0,297.9 L306.5,297.4 L308.0,297.0 L309.5,296.5 L311.0,296.0 L312.5,295.6 L314.0,295.1 L315.5,294.6 L317.0,294.1 L318.5,293.6 L320.0,293.1 L321.5,292.6 L323.0,292.1 L324.5,291.5 L326.0,291.0 L327.5,290.4 L329.0,289.9 L330.5,289.3 L332.0,288.7 L333.5,288.2 L335.0,287.6 L336.5,287.0 L338.0,286.4 L339.5,285.8 L341.0,285.1 L342.5,284.5 L344.0,283.9 L345.5,283.2 L347.0,282.6 L348.5,281.9 L350.0,281.3 L351.5,280.6 L353.0,279.9 L354.5,279.2 L356.0,278.6 L357.5,277.9 L359.0,277.2 L360.5,276.5 L362.0,275.8 L363.5,275.1 L365.0,274.4 L366.5,273.6 L368.0,272.9 L369.5,272.2 L371.0,271.5 L372.5,270.8 L374.0,270.1 L375.5,269.3 L377.0,268.6 L378.5,267.9 L380.0,267.1 L381.5,266.4 L383.0,265.7 L384.5,264.9 L386.0,264.2 L387.5,263.4 L389.0,262.7 L390.5,261.9 L392.0,261.1 L393.5,260.4 L395.0,259.6 L396.5,258.8 L398.0,258.0 L399.5,257.2 L401.0,256.4 L402.5,255.6 L404.0,254.8 L405.5,254.0 L407.0,253.2 L408.5,252.4 L410.0,251.6 L411.5,250.7 L413.0,249.9 L414.5,249.1 L416.0,248.3 L417.5,247.4 L419.0,246.6 L420.5,245.8 L422.0,244.9 L423.5,244.1 L425.0,243.3 L426.5,242.4 L428.0,241.6 L429.5,240.7" stroke="#ff4500" stroke-width="4.0" stroke-dasharray="3.2 2.1 3.2 2.1 3.2 5.6"/>
<path d="M429.5,240.7 L431.0,239.9 L432.5,239.0 L434.0,238.2 L435.5,237.4 L437.0,236.5 L438.5,235.7 L440.0,234.8 L441.5,234.0 L443.0,233.1 L444.5,232.2 L446.0,231.4 L447.5,230.5 L449.0,229.7 L450.5,228.8 L452.0,228.0 L453.5,227.1 L455.0,226.2 L456.5,225.4 L458.0,224.5" stroke="#ff4500" stroke-width="4.1" stroke-dasharray="2.6 1.1 2.6 1.1 2.6 1.1 2.6 2.2"/>
<path d="M456.5,225.4 L458.0,224.5 L459.5,223.7 L461.0,222.8 L462.5,221.9 L464.0,221.1 L465.5,220.2 L467.0,219.3 L468.5,218.5 L470.0,217.6 L471.5,216.7 L473.0,215.9 L474.5,215.0 L476.0,214.1 L477.5,213.3 L479.0,212.4 L480.5,211.5 L482.0,210.7 L483.5,209.8 L485.0,208.9 L486.5,208.0 L488.0,207.2 L489.5,206.3 L491.0,205.4 L492.5,204.6 L494.0,203.7 L495.5,202.8 L497.0,201.9 L498.5,201.1 L500.0,200.2 L501.5,199.3 L503.0,198.4 L504.5,197.6 L506.0,196.7 L507.5,195.8 L509.0,194.9 L510.5,194.1 L512.0,193.2 L513.5,192.3 L515.0,191.4 L516.5,190.5 L518.0,189.7 L519.5,188.8 L521.0,187.9 L522.5,187.0 L524.0,186.2 L525.5,185.3 L527.0,184.4 L528.5,183.5 L530.0,182.6 L531.5,181.8 L533.0,180.9 L534.5,180.0 L536.0,179.1 L537.5,178.3 L539.0,177.4 L540.5,176.5 L542.0,175.6 L543.5,174.7 L545.0,173.9 L546.5,173.0 L548.0,172.1 L549.5,171.2 L551.0,170.4 L552.5,169.5 L554.0,168.6 L555.5,167.7 L557.0,166.9 L558.5,166.0 L560.0,165.1 L561.5,164.2 L563.0,163.4 L564.5,162.5 L566.0,161.6 L567.5,160.7 L569.0,159.9 L570.5,159.0 L572.0,158.1 L573.5,157.3 L575.0,156.4 L576.5,155.5 L578.0,154.6 L579.5,153.8 L581.0,152.9 L582.5,152.0 L584.0,151.2 L585.5,150.3 L587.0,149.4 L588.5,148.6 L590.0,147.7 L591.5,146.9 L593.0,146.0 L594.5,145.1 L596.0,144.3 L597.5,143.4 L599.0,142.5 L600.5,141.7 L602.0,140.8 L602.6,140.5" stroke="#ff4500" stroke-width="4.4" stroke-dasharray="3.2 0.5 3.2 0.5 3.2 0.7"/>
</g>
<g fill="none" stroke="#000" stroke-width="1.25" stroke-dasharray="4.8 7.5">
<line x1="506.16" y1="291.33" x2="575.4" y2="250.6"/>
<line x1="503.08" y1="288.02" x2="576.3" y2="181.2"/>
<line x1="501.31" y1="287.05" x2="577.4" y2="110.0"/>
</g>
<path d="M495.5,298.3 L497.5,294.1 L500.0,296.3 Z" fill="#000"/>
<rect x="137.1" y="11.4" width="463.9" height="357.8" stroke="#000" stroke-width="1.6" fill="none"/>
<g stroke="#000" stroke-width="1.3" fill="none" stroke-linecap="butt">
<path d="M137.1,347.38h4.3 M601.0,347.38h-4.3"/>
<path d="M137.1,318.92h4.3 M601.0,318.92h-4.3"/>
<path d="M137.1,304.33h4.3 M601.0,304.33h-4.3"/>
<path d="M137.1,297.40h8.4 M601.0,297.40h-8.4"/>
<path d="M137.1,275.88h4.3 M601.0,275.88h-4.3"/>
<path d="M137.1,247.42h4.3 M601.0,247.42h-4.3"/>
<path d="M137.1,232.83h4.3 M601.0,232.83h-4.3"/>
<path d="M137.1,225.90h8.4 M601.0,225.90h-8.4"/>
<path d="M137.1,204.38h4.3 M601.0,204.38h-4.3"/>
<path d="M137.1,175.92h4.3 M601.0,175.92h-4.3"/>
<path d="M137.1,161.33h4.3 M601.0,161.33h-4.3"/>
<path d="M137.1,154.40h8.4 M601.0,154.40h-8.4"/>
<path d="M137.1,132.88h4.3 M601.0,132.88h-4.3"/>
<path d="M137.1,104.42h4.3 M601.0,104.42h-4.3"/>
<path d="M137.1,89.83h4.3 M601.0,89.83h-4.3"/>
<path d="M137.1,82.90h8.4 M601.0,82.90h-8.4"/>
<path d="M137.1,61.38h4.3 M601.0,61.38h-4.3"/>
<path d="M137.1,32.92h4.3 M601.0,32.92h-4.3"/>
<path d="M137.1,18.33h4.3 M601.0,18.33h-4.3"/>
<path d="M172.85,369.2v-4.3 M172.85,11.4v4.3"/>
<path d="M193.94,369.2v-4.3 M193.94,11.4v4.3"/>
<path d="M208.90,369.2v-4.3 M208.90,11.4v4.3"/>
<path d="M220.50,369.2v-4.3 M220.50,11.4v4.3"/>
<path d="M229.98,369.2v-4.3 M229.98,11.4v4.3"/>
<path d="M238.00,369.2v-4.3 M238.00,11.4v4.3"/>
<path d="M244.95,369.2v-4.3 M244.95,11.4v4.3"/>
<path d="M251.07,369.2v-4.3 M251.07,11.4v4.3"/>
<path d="M256.55,369.2v-8.4 M256.55,11.4v8.4"/>
<path d="M292.60,369.2v-4.3 M292.60,11.4v4.3"/>
<path d="M313.69,369.2v-4.3 M313.69,11.4v4.3"/>
<path d="M328.65,369.2v-4.3 M328.65,11.4v4.3"/>
<path d="M340.25,369.2v-4.3 M340.25,11.4v4.3"/>
<path d="M349.73,369.2v-4.3 M349.73,11.4v4.3"/>
<path d="M357.75,369.2v-4.3 M357.75,11.4v4.3"/>
<path d="M364.70,369.2v-4.3 M364.70,11.4v4.3"/>
<path d="M370.82,369.2v-4.3 M370.82,11.4v4.3"/>
<path d="M376.30,369.2v-8.4 M376.30,11.4v8.4"/>
<path d="M412.35,369.2v-4.3 M412.35,11.4v4.3"/>
<path d="M433.44,369.2v-4.3 M433.44,11.4v4.3"/>
<path d="M448.40,369.2v-4.3 M448.40,11.4v4.3"/>
<path d="M460.00,369.2v-4.3 M460.00,11.4v4.3"/>
<path d="M469.48,369.2v-4.3 M469.48,11.4v4.3"/>
<path d="M477.50,369.2v-4.3 M477.50,11.4v4.3"/>
<path d="M484.45,369.2v-4.3 M484.45,11.4v4.3"/>
<path d="M490.57,369.2v-4.3 M490.57,11.4v4.3"/>
<path d="M496.05,369.2v-8.4 M496.05,11.4v8.4"/>
<path d="M532.10,369.2v-4.3 M532.10,11.4v4.3"/>
<path d="M553.19,369.2v-4.3 M553.19,11.4v4.3"/>
<path d="M568.15,369.2v-4.3 M568.15,11.4v4.3"/>
<path d="M579.75,369.2v-4.3 M579.75,11.4v4.3"/>
<path d="M589.23,369.2v-4.3 M589.23,11.4v4.3"/>
<path d="M597.25,369.2v-4.3 M597.25,11.4v4.3"/>
</g>
<g>
<g transform="translate(0,20.35) scale(1,1.02)"><path transform="translate(55.44,0) scale(0.02520)" d="M259,0 L259,-505 L102,-505 L102,-568 C238,-586 257,-600 288,-709 L347,-709 L347,0 Z" fill="#000"/><text x="69.46 83.47 97.48 111.49" y="0" font-size="25.2px">0000</text></g>
<g transform="translate(0,91.85) scale(1,1.02)"><path transform="translate(69.46,0) scale(0.02520)" d="M259,0 L259,-505 L102,-505 L102,-568 C238,-586 257,-600 288,-709 L347,-709 L347,0 Z" fill="#000"/><text x="83.47 97.48 111.49" y="0" font-size="25.2px">000</text></g>
<g transform="translate(0,163.35) scale(1,1.02)"><path transform="translate(83.47,0) scale(0.02520)" d="M259,0 L259,-505 L102,-505 L102,-568 C238,-586 257,-600 288,-709 L347,-709 L347,0 Z" fill="#000"/><text x="97.48 111.49" y="0" font-size="25.2px">00</text></g>
<g transform="translate(0,234.85) scale(1,1.02)"><path transform="translate(97.48,0) scale(0.02520)" d="M259,0 L259,-505 L102,-505 L102,-568 C238,-586 257,-600 288,-709 L347,-709 L347,0 Z" fill="#000"/><text x="111.49" y="0" font-size="25.2px">0</text></g>
<g transform="translate(0,306.35) scale(1,1.02)"><path transform="translate(111.49,0) scale(0.02520)" d="M259,0 L259,-505 L102,-505 L102,-568 C238,-586 257,-600 288,-709 L347,-709 L347,0 Z" fill="#000"/></g>
<g transform="translate(0,377.85) scale(1,1.02)"><path transform="translate(111.49,0) scale(0.02520)" d="M259,0 L259,-505 L102,-505 L102,-568 C238,-586 257,-600 288,-709 L347,-709 L347,0 Z" fill="#000"/><text x="90.47 104.48" y="0" font-size="25.2px">0.</text></g>
<g transform="translate(0,398.00) scale(1,1.02)"><path transform="translate(133.39,0) scale(0.02520)" d="M259,0 L259,-505 L102,-505 L102,-568 C238,-586 257,-600 288,-709 L347,-709 L347,0 Z" fill="#000"/></g>
<g transform="translate(0,398.00) scale(1,1.02)"><path transform="translate(246.14,0) scale(0.02520)" d="M259,0 L259,-505 L102,-505 L102,-568 C238,-586 257,-600 288,-709 L347,-709 L347,0 Z" fill="#000"/><text x="260.15" y="0" font-size="25.2px">0</text></g>
<g transform="translate(0,398.00) scale(1,1.02)"><path transform="translate(358.88,0) scale(0.02520)" d="M259,0 L259,-505 L102,-505 L102,-568 C238,-586 257,-600 288,-709 L347,-709 L347,0 Z" fill="#000"/><text x="372.89 386.91" y="0" font-size="25.2px">00</text></g>
<g transform="translate(0,398.00) scale(1,1.02)"><path transform="translate(471.63,0) scale(0.02520)" d="M259,0 L259,-505 L102,-505 L102,-568 C238,-586 257,-600 288,-709 L347,-709 L347,0 Z" fill="#000"/><text x="485.64 499.65 513.66" y="0" font-size="25.2px">000</text></g>
<g transform="translate(0,141.60) scale(1,1.02)"><text x="573.59" y="0" font-size="25.2px">3</text></g>
<g transform="translate(0,212.30) scale(1,1.02)"><text x="573.59" y="0" font-size="25.2px">2</text></g>
<g transform="translate(0,271.40) scale(1,1.02)"><path transform="translate(574.29,0) scale(0.02520)" d="M259,0 L259,-505 L102,-505 L102,-568 C238,-586 257,-600 288,-709 L347,-709 L347,0 Z" fill="#000"/></g>
</g>
<g>
<text transform="translate(160.7,39.40) scale(1.06,1)" x="0" y="0" font-size="21.9px" style="font-family:'Liberation Serif',serif">η</text>
<path d="M173.9,33.50h9.3 M173.9,36.90h9.3" stroke="#000" stroke-width="1.5" fill="none"/>
<g transform="translate(0,39.50) scale(1,1.03)"><text x="184.50 195.29 200.68 211.47 222.25" y="0" font-size="19.4px">0.080</text></g>
<text transform="translate(160.7,58.80) scale(1.06,1)" x="0" y="0" font-size="21.9px" style="font-family:'Liberation Serif',serif">η</text>
<path d="M173.9,52.90h9.3 M173.9,56.30h9.3" stroke="#000" stroke-width="1.5" fill="none"/>
<g transform="translate(0,58.90) scale(1,1.03)"><path transform="translate(200.68,0) scale(0.01940)" d="M259,0 L259,-505 L102,-505 L102,-568 C238,-586 257,-600 288,-709 L347,-709 L347,0 Z" fill="#000"/><path transform="translate(211.47,0) scale(0.01940)" d="M259,0 L259,-505 L102,-505 L102,-568 C238,-586 257,-600 288,-709 L347,-709 L347,0 Z" fill="#000"/><text x="184.50 195.29 222.25" y="0" font-size="19.4px">0.5</text></g>
<text transform="translate(160.7,78.30) scale(1.06,1)" x="0" y="0" font-size="21.9px" style="font-family:'Liberation Serif',serif">η</text>
<path d="M173.9,72.40h9.3 M173.9,75.80h9.3" stroke="#000" stroke-width="1.5" fill="none"/>
<g transform="translate(0,78.40) scale(1,1.03)"><path transform="translate(200.68,0) scale(0.01940)" d="M259,0 L259,-505 L102,-505 L102,-568 C238,-586 257,-600 288,-709 L347,-709 L347,0 Z" fill="#000"/><text x="184.50 195.29 211.47 222.25" y="0" font-size="19.4px">0.60</text></g>
<text transform="translate(160.7,97.90) scale(1.06,1)" x="0" y="0" font-size="21.9px" style="font-family:'Liberation Serif',serif">η</text>
<path d="M173.9,92.00h9.3 M173.9,95.40h9.3" stroke="#000" stroke-width="1.5" fill="none"/>
<g transform="translate(0,98.00) scale(1,1.03)"><text x="184.50 195.29 200.68 211.47 222.25" y="0" font-size="19.4px">0.200</text></g>
<text transform="translate(160.7,117.30) scale(1.06,1)" x="0" y="0" font-size="21.9px" style="font-family:'Liberation Serif',serif">η</text>
<path d="M173.9,111.40h9.3 M173.9,114.80h9.3" stroke="#000" stroke-width="1.5" fill="none"/>
<g transform="translate(0,117.40) scale(1,1.03)"><text x="184.50 195.29 200.68 211.47 222.25" y="0" font-size="19.4px">0.300</text></g>
<text transform="translate(160.7,136.70) scale(1.06,1)" x="0" y="0" font-size="21.9px" style="font-family:'Liberation Serif',serif">η</text>
<path d="M173.9,130.80h9.3 M173.9,134.20h9.3" stroke="#000" stroke-width="1.5" fill="none"/>
<g transform="translate(0,136.80) scale(1,1.03)"><text x="184.50 195.29 200.68 211.47 222.25" y="0" font-size="19.4px">0.360</text></g>
<text transform="translate(160.7,156.30) scale(1.06,1)" x="0" y="0" font-size="21.9px" style="font-family:'Liberation Serif',serif">η</text>
<path d="M173.9,150.40h9.3 M173.9,153.80h9.3" stroke="#000" stroke-width="1.5" fill="none"/>
<g transform="translate(0,156.40) scale(1,1.03)"><text x="184.50 195.29 200.68 211.47 222.25" y="0" font-size="19.4px">0.500</text></g>
<text transform="translate(160.7,175.50) scale(1.06,1)" x="0" y="0" font-size="21.9px" style="font-family:'Liberation Serif',serif">η</text>
<path d="M173.9,169.60h9.3 M173.9,173.00h9.3" stroke="#000" stroke-width="1.5" fill="none"/>
<g transform="translate(0,175.60) scale(1,1.03)"><path transform="translate(184.50,0) scale(0.01940)" d="M259,0 L259,-505 L102,-505 L102,-568 C238,-586 257,-600 288,-709 L347,-709 L347,0 Z" fill="#000"/><text x="195.29 200.68 211.47 222.25" y="0" font-size="19.4px">.000</text></g>
</g>
<g fill="none">
<line x1="244.8" y1="33.0" x2="300.5" y2="33.0" stroke="#ff0000" stroke-width="4"/>
<line x1="244.8" y1="52.4" x2="300.5" y2="52.4" stroke="#00ff00" stroke-width="4" stroke-dasharray="5.8 2.6"/>
<line x1="244.8" y1="71.9" x2="300.5" y2="71.9" stroke="#0000ff" stroke-width="4" stroke-dasharray="3.0 3.93"/>
<line x1="244.8" y1="91.5" x2="300.5" y2="91.5" stroke="#ff00ff" stroke-width="4" stroke-dasharray="1.6 1.87"/>
<line x1="244.8" y1="110.9" x2="300.5" y2="110.9" stroke="#00ffff" stroke-width="4" stroke-dasharray="7.6 2.1 1.5 2.7"/>
<line x1="244.8" y1="130.3" x2="300.5" y2="130.3" stroke="#ffff00" stroke-width="4" stroke-dasharray="5.8 4.0 1.4 4.1"/>
<line x1="244.8" y1="149.9" x2="300.5" y2="149.9" stroke="#000000" stroke-width="4" stroke-dasharray="3.2 2.1 3.2 5.4"/>
<line x1="244.8" y1="169.1" x2="300.5" y2="169.1" stroke="#ff4500" stroke-width="4" stroke-dasharray="3.2 2.1 3.2 2.1 3.2 5.6"/>
</g>
<text x="438.5" y="428.8" font-size="32.5px" style="font-family:'Liberation Serif',serif;font-style:italic">t</text>
<g transform="translate(26,113) rotate(-90)" style="font-family:'Liberation Serif',serif">
<text x="-58.5" y="5.1" font-size="35.0px" style="font-family:'Liberation Serif',serif;font-style:normal">&lt;</text>
<text x="-30.3" y="0.2" font-size="29.0px" style="font-family:'Liberation Serif',serif;font-style:italic">r</text>
<text x="-15.8" y="-10.1" font-size="21.2px" style="font-family:'Liberation Serif',serif;font-style:normal">2</text>
<text x="-17.1" y="6.1" font-size="21.0px" style="font-family:'Liberation Serif',serif;font-style:italic">i</text>
<text x="-8.15" y="6.1" font-size="21.0px" style="font-family:'Liberation Serif',serif;font-style:italic">j</text>
<text x="9.6" y="0.2" font-size="32.5px" style="font-family:'Liberation Serif',serif;font-style:italic">t</text>
<text x="39.2" y="5.1" font-size="35.0px" style="font-family:'Liberation Serif',serif;font-style:normal">&gt;</text>
<path d="M8.6,-22.2 Q-5.4,-7.4 8.6,7.4 Q-2.4,-7.4 8.6,-22.2 Z" fill="#000" stroke="#000" stroke-width="0.7" stroke-linejoin="round"/>
<path d="M22,-22.2 Q33.6,-7.4 22,7.4 Q30.6,-7.4 22,-22.2 Z" fill="#000" stroke="#000" stroke-width="0.7" stroke-linejoin="round"/>
</g>
</svg></body></html>
